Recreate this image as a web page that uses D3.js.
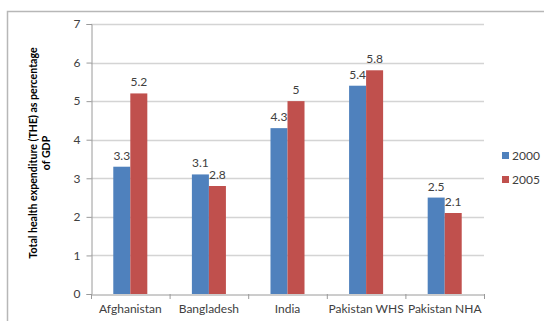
<!DOCTYPE html>
<html>
<head>
<meta charset="utf-8">
<script src="https://cdn.jsdelivr.net/npm/d3@7"></script>
<style>
body { margin: 0; background: #fff; }
text { font-family: Lato, "Open Sans", sans-serif; }
</style>
</head>
<body>
<script>
// data
var categories = ["Afghanistan", "Bangladesh", "India", "Pakistan WHS", "Pakistan NHA"];
var series = ["2000", "2005"];
var values2000 = [3.3, 3.1, 4.3, 5.4, 2.5];
var values2005 = [5.2, 2.8, 5, 5.8, 2.1];
var yTicks = [0, 1, 2, 3, 4, 5, 6, 7];
var colors = ["#4f81bd", "#c0504d"];

var width = 544;
var height = 321;

var plot = { left: 91, right: 484, top: 24, bottom: 294 };

var svg = d3.select("body")
    .append("svg")
    .attr("width", width)
    .attr("height", height);

// outer chart border
svg.append("rect")
    .attr("x", 7.5)
    .attr("y", 11.5)
    .attr("width", 560)
    .attr("height", 340)
    .attr("fill", "none")
    .attr("stroke", "#b7b7b7")
    .attr("stroke-width", 1.5);

var x0 = d3.scaleBand()
    .domain(categories)
    .range([plot.left, plot.right]);

var x1 = d3.scaleBand()
    .domain(series)
    .range([0, x0.bandwidth()])
    .paddingOuter(1.31);

var y = d3.scaleLinear()
    .domain([0, 7])
    .range([plot.bottom, plot.top]);

// gridlines
svg.selectAll(".grid")
    .data(yTicks.slice(1))
    .enter()
    .append("line")
    .attr("class", "grid")
    .attr("x1", plot.left)
    .attr("x2", plot.right)
    .attr("y1", function(d) { return Math.round(y(d)) + 0.5; })
    .attr("y2", function(d) { return Math.round(y(d)) + 0.5; })
    .attr("stroke", "#d4d4d4")
    .attr("stroke-width", 1.3);

// y axis
var yAxis = svg.append("g")
    .attr("transform", "translate(" + (plot.left + 0.5) + ",0)")
    .call(d3.axisLeft(y).tickValues(yTicks).tickSize(5).tickPadding(6).tickFormat(d3.format("d")));
yAxis.select(".domain").attr("stroke", "#9a9a9a");
yAxis.selectAll(".tick line").attr("stroke", "#9a9a9a");
yAxis.selectAll(".tick text")
    .attr("fill", "#404040")
    .style("font-size", "12px");

// x axis
var xAxis = svg.append("g")
    .attr("transform", "translate(0," + (plot.bottom + 0.5) + ")")
    .call(d3.axisBottom(x0).tickSize(0).tickPadding(10));
xAxis.select(".domain").attr("stroke", "#9a9a9a");
xAxis.selectAll(".tick text")
    .attr("fill", "#404040")
    .style("font-size", "12px");

// category separators
svg.selectAll(".sep")
    .data(categories.concat(["end"]))
    .enter()
    .append("line")
    .attr("class", "sep")
    .attr("x1", function(d, i) { return plot.left + i * x0.step() + 0.5; })
    .attr("x2", function(d, i) { return plot.left + i * x0.step() + 0.5; })
    .attr("y1", plot.bottom)
    .attr("y2", plot.bottom + 5)
    .attr("stroke", "#9a9a9a");

// bars
var rows = categories.map(function(c, i) {
    return { category: c, values: [values2000[i], values2005[i]] };
});

var group = svg.selectAll(".group")
    .data(rows)
    .enter()
    .append("g")
    .attr("class", "group")
    .attr("transform", function(d) { return "translate(" + x0(d.category) + ",0)"; });

group.selectAll("rect")
    .data(function(d) {
        return series.map(function(s, j) { return { key: s, value: d.values[j], idx: j }; });
    })
    .enter()
    .append("rect")
    .attr("x", function(d) { return x1(d.key); })
    .attr("width", x1.bandwidth())
    .attr("y", function(d) { return y(d.value); })
    .attr("height", function(d) { return plot.bottom - y(d.value); })
    .attr("fill", function(d) { return colors[d.idx]; });

group.selectAll(".label")
    .data(function(d) {
        return series.map(function(s, j) { return { key: s, value: d.values[j] }; });
    })
    .enter()
    .append("text")
    .attr("class", "label")
    .attr("x", function(d) { return x1(d.key) + x1.bandwidth() / 2; })
    .attr("y", function(d) { return y(d.value) - 7; })
    .attr("text-anchor", "middle")
    .attr("fill", "#404040")
    .style("font-size", "12px")
    .text(function(d) { return d.value; });

// y axis title
var title = svg.append("text")
    .attr("transform", "translate(37,153) rotate(-90)")
    .attr("text-anchor", "middle")
    .attr("fill", "#000")
    .style("font-size", "10.6px")
    .style("font-weight", "bold");
title.append("tspan").attr("x", 0).attr("dy", 0).text("Total health expenditure (THE) as percentage");
title.append("tspan").attr("x", 0).attr("dy", 13).text("of GDP");

// legend
var legend = svg.selectAll(".legend")
    .data(series)
    .enter()
    .append("g")
    .attr("class", "legend")
    .attr("transform", function(d, i) { return "translate(502," + (152 + i * 24) + ")"; });

legend.append("rect")
    .attr("width", 7)
    .attr("height", 7)
    .attr("fill", function(d, i) { return colors[i]; });

legend.append("text")
    .attr("x", 10)
    .attr("y", 8)
    .attr("fill", "#404040")
    .style("font-size", "12px")
    .text(function(d) { return d; });
</script>
</body>
</html>
